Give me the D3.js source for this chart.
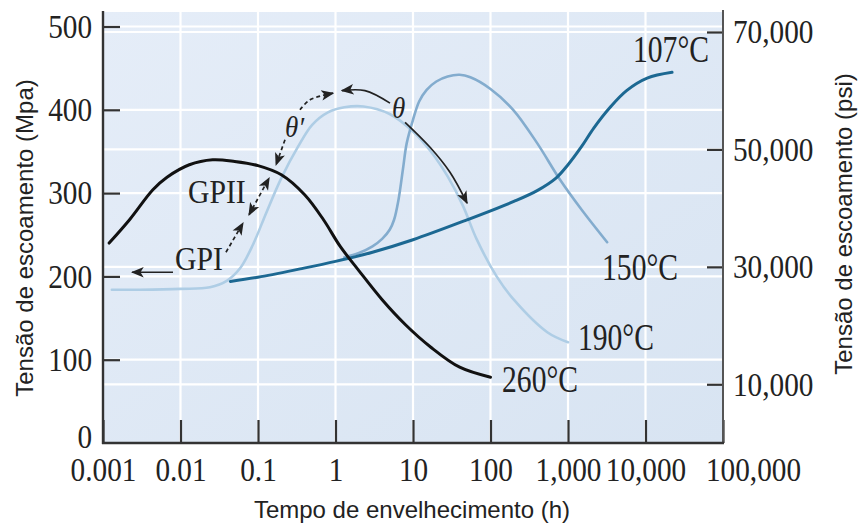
<!DOCTYPE html>
<meta charset="utf-8">
<style>
    body { margin: 0; background: #fff; }
    .serif { font-family: "Liberation Serif", "Times New Roman", serif; fill: #222; }
    .sans { font-family: "Liberation Sans", Arial, sans-serif; fill: #222; }
    .axis line { stroke: #333; stroke-width: 2.2; }
    .grid line { stroke: #fff; stroke-width: 2.2; }
</style>

<body>
    <script src="https://cdnjs.cloudflare.com/ajax/libs/d3/7.8.5/d3.min.js"></script>
    <script>
        // x ticks (aging time, h)
        var xTicks = [0.001, 0.01, 0.1, 1, 10, 100, 1000, 10000, 100000];
        var xTickLabels = ["0.001", "0.01", "0.1", "1", "10", "100", "1,000", "10,000", "100,000"];
        // left axis (MPa) and right axis (psi)
        var mpaTicks = [0, 100, 200, 300, 400, 500];
        var psiTicks = [10000, 30000, 50000, 70000];
        var psiTickLabels = ["10,000", "30,000", "50,000", "70,000"];

        // curves: [time h, yield strength MPa]
        var curve260 = [[0.0012, 240], [0.0022, 268], [0.0044, 304], [0.0067, 319], [0.013, 334], [0.026, 340],
            [0.05, 338], [0.1, 333], [0.2, 322], [0.4, 298], [0.7, 268], [1.15, 236], [2, 207],
            [4, 172], [8, 142], [17, 115], [40, 91], [100, 79]];
        var curve190 = [[0.0013, 184], [0.003, 184], [0.01, 185], [0.024, 187], [0.04, 195], [0.059, 210],
            [0.086, 238], [0.13, 278], [0.2, 318], [0.33, 356], [0.5, 382], [0.8, 397], [1.3, 403], [2.3, 404],
            [5, 395], [10, 374], [17, 350], [28, 320], [44, 285], [66, 245], [120, 200], [200, 172], [540, 133], [1000, 121]];
        var curve150 = [[1.3, 223], [2, 228], [3, 236], [4, 245], [5, 256], [5.7, 268], [6.5, 292], [7.4, 328],
            [8.3, 360], [10, 388], [12, 410], [15, 424], [20, 434], [28, 440], [40, 442], [55, 439], [100, 425],
            [196, 400], [400, 360], [790, 316], [1500, 280], [3200, 241]];
        var curve107 = [[0.044, 194], [0.1, 199], [0.35, 209], [1, 218], [3, 229], [10, 244], [44, 266], [200, 290],
            [400, 303], [700, 318], [1000, 334], [1500, 356], [2150, 378], [3500, 403], [5700, 423], [10500, 438], [22000, 445]];

        var series = [
            { name: "190°C", data: curve190, color: "#aecde5", width: 2.6, label: [1345, 112] },
            { name: "150°C", data: curve150, color: "#83acce", width: 2.6, label: [2750, 196] },
            { name: "107°C", data: curve107, color: "#1c6892", width: 3, label: [6900, 457] },
            { name: "260°C", data: curve260, color: "#111", width: 3, label: [141, 61] }
        ];

        var width = 859,
            height = 528;

        var svg = d3.select("body").append("svg")
            .attr("width", width)
            .attr("height", height);

        var plotLeft = 103, plotRight = 723, plotTop = 12, plotBottom = 443;

        var x = d3.scaleLog().domain([0.001, 100000]).range([plotLeft, plotRight]);
        var y = d3.scaleLinear().domain([0, 500]).range([plotBottom, 26.5]);
        var yPsi = d3.scaleLinear().domain([0, 70000]).range([plotBottom, 32]);

        var defs = svg.append("defs");
        var grad = defs.append("linearGradient").attr("id", "bg")
            .attr("x1", 0).attr("y1", 0).attr("x2", 1).attr("y2", 1);
        grad.append("stop").attr("offset", 0).attr("stop-color", "#e5edf8");
        grad.append("stop").attr("offset", 1).attr("stop-color", "#d8e4f2");

        defs.append("marker").attr("id", "head")
            .attr("viewBox", "0 0 10 10").attr("refX", 9).attr("refY", 5)
            .attr("markerWidth", 13).attr("markerHeight", 13)
            .attr("markerUnits", "userSpaceOnUse")
            .attr("orient", "auto")
            .append("path").attr("d", "M0,1 L10,5 L0,9 L2.5,5 Z").attr("fill", "#222");
        defs.append("marker").attr("id", "headStart")
            .attr("viewBox", "0 0 10 10").attr("refX", 1).attr("refY", 5)
            .attr("markerWidth", 13).attr("markerHeight", 13)
            .attr("markerUnits", "userSpaceOnUse")
            .attr("orient", "auto")
            .append("path").attr("d", "M10,1 L0,5 L10,9 L7.5,5 Z").attr("fill", "#222");

        svg.append("rect")
            .attr("x", plotLeft).attr("y", plotTop)
            .attr("width", plotRight - plotLeft).attr("height", plotBottom - plotTop)
            .attr("fill", "url(#bg)");

        // grid
        var grid = svg.append("g").attr("class", "grid");
        grid.selectAll(".gx").data(xTicks.slice(1, -1)).enter().append("line")
            .attr("x1", function (d) { return x(d); }).attr("x2", function (d) { return x(d); })
            .attr("y1", plotTop).attr("y2", plotBottom);
        grid.selectAll(".gy").data(mpaTicks.slice(1)).enter().append("line")
            .attr("x1", plotLeft).attr("x2", plotRight)
            .attr("y1", function (d) { return y(d); }).attr("y2", function (d) { return y(d); });
        grid.selectAll(".gp").data(psiTicks).enter().append("line")
            .attr("x1", plotLeft).attr("x2", plotRight)
            .attr("y1", function (d) { return yPsi(d); }).attr("y2", function (d) { return yPsi(d); });

        // curves
        var line = d3.line()
            .x(function (d) { return x(d[0]); })
            .y(function (d) { return y(d[1]); })
            .curve(d3.curveCatmullRom.alpha(0.5));

        svg.selectAll(".curve").data(series).enter().append("path")
            .attr("class", "curve")
            .attr("d", function (d) { return line(d.data); })
            .attr("fill", "none")
            .attr("stroke", function (d) { return d.color; })
            .attr("stroke-width", function (d) { return d.width; })
            .attr("stroke-linecap", "round");

        svg.selectAll(".clabel").data(series).enter().append("text")
            .attr("class", "serif clabel")
            .attr("x", function (d) { return x(d.label[0]); })
            .attr("y", function (d) { return y(d.label[1]); })
            .style("font-size", "37px")
            .text(function (d) { return d.name; });

        // axes
        var xAxis = svg.append("g").attr("class", "axis")
            .attr("transform", "translate(0," + plotBottom + ")")
            .call(d3.axisBottom(x).tickValues(xTicks)
                .tickFormat(function (d, i) { return xTickLabels[i]; })
                .tickSize(-23).tickSizeOuter(0).tickPadding(14));

        var yAxis = svg.append("g").attr("class", "axis")
            .attr("transform", "translate(" + plotLeft + ",0)")
            .call(d3.axisLeft(y).tickValues(mpaTicks)
                .tickSize(-17).tickSizeOuter(0).tickPadding(11));

        var pAxis = svg.append("g").attr("class", "axis")
            .attr("transform", "translate(" + plotRight + ",0)")
            .call(d3.axisRight(yPsi).tickValues(psiTicks)
                .tickFormat(function (d, i) { return psiTickLabels[i]; })
                .tickSize(-16).tickSizeOuter(0).tickPadding(10));

        svg.selectAll(".axis .domain").remove();
        svg.selectAll(".axis text")
            .attr("class", "serif")
            .attr("fill", null)
            .style("font-size", "34px");
        yAxis.selectAll(".tick").filter(function (d) { return d === 0; })
            .call(function (t) {
                t.select("line").remove();
                t.select("text").attr("dy", "0.14em");
            });
        // last x label sits right of the frame in the original
        xAxis.selectAll(".tick").filter(function (d) { return d === 100000; })
            .select("text").attr("dx", 30);

        svg.append("line").attr("x1", plotLeft).attr("x2", plotLeft).attr("y1", plotTop - 1).attr("y2", plotBottom + 1)
            .attr("stroke", "#333").attr("stroke-width", 2.4);
        svg.append("line").attr("x1", plotRight).attr("x2", plotRight).attr("y1", plotTop - 2).attr("y2", plotBottom + 1)
            .attr("stroke", "#555").attr("stroke-width", 2);
        svg.append("line").attr("x1", plotLeft - 1).attr("x2", plotRight + 1).attr("y1", plotBottom).attr("y2", plotBottom)
            .attr("stroke", "#333").attr("stroke-width", 2.4);

        // axis titles
        svg.append("text").attr("class", "sans")
            .attr("transform", "translate(33,238) rotate(-90)")
            .attr("text-anchor", "middle")
            .style("font-size", "24px")
            .text("Tensão de escoamento (Mpa)");
        svg.append("text").attr("class", "sans")
            .attr("transform", "translate(852,224) rotate(-90)")
            .attr("text-anchor", "middle")
            .style("font-size", "24px")
            .text("Tensão de escoamento (psi)");
        svg.append("text").attr("class", "sans")
            .attr("x", 412).attr("y", 518)
            .attr("text-anchor", "middle")
            .style("font-size", "24px")
            .text("Tempo de envelhecimento (h)");

        // annotations, positioned in data units [h, MPa]
        var notes = [
            { text: "GPI", at: [0.0085, 208], size: 33, italic: false },
            { text: "GPII", at: [0.0125, 288], size: 33, italic: false },
            { text: "θ′", at: [0.223, 367], size: 30, italic: true },
            { text: "θ", at: [5.36, 390], size: 30, italic: true }
        ];
        svg.selectAll(".note").data(notes).enter().append("text")
            .attr("class", "serif note")
            .attr("x", function (d) { return x(d.at[0]); })
            .attr("y", function (d) { return y(d.at[1]); })
            .style("font-size", function (d) { return d.size + "px"; })
            .style("font-style", function (d) { return d.italic ? "italic" : "normal"; })
            .text(function (d) { return d.text; });

        var arrows = [
            { pts: [[0.008, 205], [0.00237, 205]], dash: null, start: false },
            { pts: [[0.0386, 229], [0.064, 264]], dash: "4,3", start: false },
            { pts: [[0.0766, 274], [0.139, 318]], dash: "4,3", start: true },
            { pts: [[0.223, 364], [0.171, 334]], dash: "4,3", start: false },
            { pts: [[0.348, 400], [0.469, 412], [0.929, 420]], dash: "4,3", start: false },
            { pts: [[5.05, 408], [2.4, 423], [1.21, 423]], dash: null, start: false },
            { pts: [[7.9, 385], [16.6, 355], [30, 325], [49.8, 288]], dash: null, start: false }
        ];
        var aline = d3.line()
            .x(function (d) { return x(d[0]); })
            .y(function (d) { return y(d[1]); })
            .curve(d3.curveCatmullRom);

        svg.selectAll(".arrow").data(arrows).enter().append("path")
            .attr("class", "arrow")
            .attr("d", function (d) { return aline(d.pts); })
            .attr("fill", "none")
            .attr("stroke", "#222")
            .attr("stroke-width", 1.7)
            .attr("stroke-dasharray", function (d) { return d.dash; })
            .attr("marker-end", "url(#head)")
            .attr("marker-start", function (d) { return d.start ? "url(#headStart)" : null; });

        // condense the serif text a bit, like the printed figure
        svg.selectAll("text.serif").each(function () {
            var el = d3.select(this);
            var ratio = el.classed("clabel") ? 0.8 : (el.classed("note") ? 0.9 : 0.86);
            el.attr("textLength", this.getComputedTextLength() * ratio)
                .attr("lengthAdjust", "spacingAndGlyphs");
        });
    </script>
